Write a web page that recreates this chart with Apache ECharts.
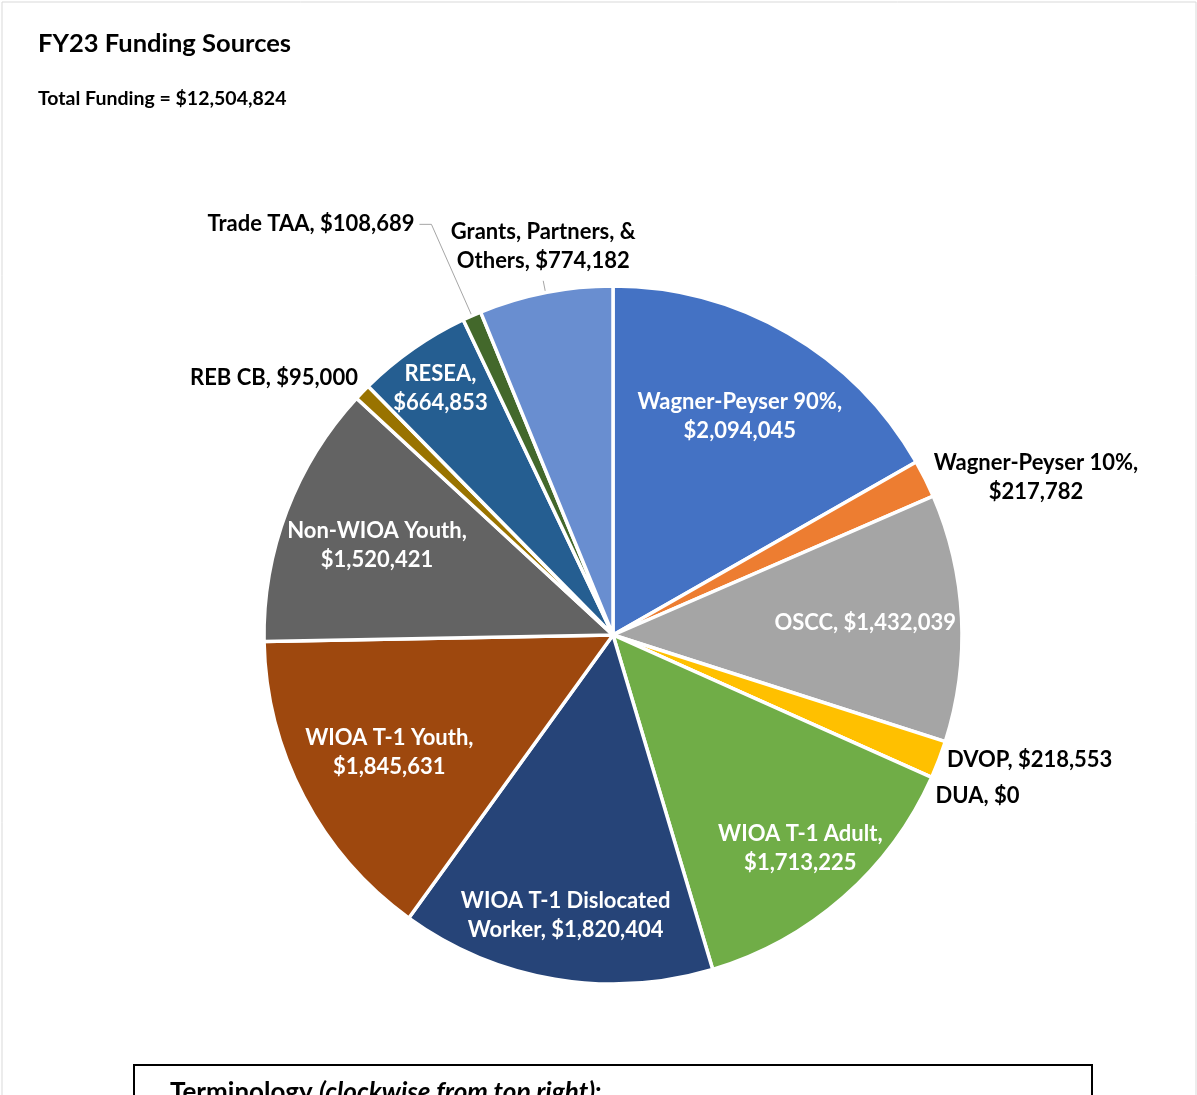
<!DOCTYPE html>
<html>
<head>
<meta charset="utf-8">
<script src="https://cdn.jsdelivr.net/npm/echarts@6/dist/echarts.min.js"></script>
<style>
html,body{margin:0;padding:0;background:#fff;}
#chart{width:1197px;height:1095px;}
</style>
</head>
<body>
<div id="chart"></div>
<script>
// ---- data ----
const titleText = 'FY23 Funding Sources';
const subtitleText = 'Total Funding = $12,504,824';
const categories = [
  'Wagner-Peyser 90%', 'Wagner-Peyser 10%', 'OSCC', 'DVOP', 'DUA',
  'WIOA T-1 Adult', 'WIOA T-1 Dislocated Worker', 'WIOA T-1 Youth',
  'Non-WIOA Youth', 'REB CB', 'RESEA', 'Trade TAA', 'Grants, Partners, & Others'
];
const values = [
  2094045, 217782, 1432039, 218553, 0,
  1713225, 1820404, 1845631,
  1520421, 95000, 664853, 108689, 774182
];
const colors = [
  '#4472C4', '#ED7D31', '#A5A5A5', '#FFC000', '#5B9BD5',
  '#70AD47', '#264478', '#9E480E',
  '#636363', '#997300', '#255E91', '#43682B', '#698ED0'
];
const boxTitle = 'Terminology ';
const boxTitleItalic = '(clockwise from top right)';

// ---- layout / style ----
const FONT = 'Lato';
const CX = 613, CY = 635, R = 349;
const twoLine = new Set(['Wagner-Peyser 90%', 'Wagner-Peyser 10%', 'WIOA T-1 Adult',
  'WIOA T-1 Youth', 'Non-WIOA Youth', 'RESEA']);
function money(v) { return '$' + v.toLocaleString('en-US'); }
function labelText(name, v) {
  if (name === 'WIOA T-1 Dislocated Worker') return 'WIOA T-1 Dislocated\nWorker, ' + money(v);
  if (name === 'Grants, Partners, & Others') return 'Grants, Partners, &\nOthers, ' + money(v);
  return twoLine.has(name) ? name + ',\n' + money(v) : name + ', ' + money(v);
}
// inside label groups (inner radius of transparent label ring)
const insideGroups = [
  { r0: 150, names: ['Wagner-Peyser 90%', 'OSCC', 'WIOA T-1 Youth', 'Non-WIOA Youth'] },
  { r0: 213, names: ['WIOA T-1 Adult', 'WIOA T-1 Dislocated Worker'] },
  { r0: 247, names: ['RESEA'] }
];
// outside labels: leader line lengths
const outsideCfg = {
  'Wagner-Peyser 10%': { len: 4, len2: 0, dist: 5, line: false },
  'DVOP': { len: 2, len2: 0, dist: 2, line: false, lh: 34 },
  'DUA': { len: 2, len2: 0, dist: 2, line: false, lh: 34 },
  'REB CB': { len: 20, len2: 0, dist: -10, line: false },
  'Trade TAA': { len: 100, len2: 12, dist: 5, line: true },
  'Grants, Partners, & Others': { len: 12, len2: 0, dist: 5, line: true }
};

const baseLabel = {
  fontFamily: FONT, fontWeight: 'bold', fontSize: 22, lineHeight: 29
};

const mainData = categories.map((name, i) => {
  const oc = outsideCfg[name];
  const lbl = oc ? { show: true, position: 'outside', color: '#000', distanceToLabelLine: oc.dist } : { show: false };
  if (oc && oc.lh) lbl.lineHeight = oc.lh;
  return {
    name: name,
    value: values[i],
    itemStyle: { color: colors[i] },
    label: lbl,
    labelLine: oc ? {
      show: oc.line, length: oc.len, length2: oc.len2,
      lineStyle: { color: '#A6A6A6', width: 1 }
    } : { show: false }
  };
});

const series = [{
  type: 'pie',
  center: [CX, CY],
  radius: [0, R],
  startAngle: 90,
  clockwise: true,
  avoidLabelOverlap: true,
  silent: true,
  emphasis: { disabled: true },
  itemStyle: { borderColor: '#ffffff', borderWidth: 3.5 },
  label: Object.assign({
    formatter: p => labelText(p.name, p.value)
  }, baseLabel),
  labelLayout: function (p) {
    const name = categories[p.dataIndex];
    if (name === 'Wagner-Peyser 10%') {
      const r = p.labelRect;
      return { x: r.x + r.width / 2, align: 'center' };
    }
    if (name === 'Grants, Partners, & Others') {
      const pts = p.labelLinePoints;
      if (!pts) return {};
      return {
        x: pts[1][0], y: pts[1][1] - 5, align: 'center', verticalAlign: 'bottom',
        labelLinePoints: [pts[0], pts[1]]
      };
    }
    return {};
  },
  data: mainData
}];

insideGroups.forEach(g => {
  series.push({
    type: 'pie',
    center: [CX, CY],
    radius: [g.r0, R],
    startAngle: 90,
    clockwise: true,
    silent: true,
    z: 5,
    emphasis: { disabled: true },
    itemStyle: { color: 'rgba(0,0,0,0)', borderWidth: 0 },
    labelLine: { show: false },
    label: Object.assign({
      position: 'inside', color: '#ffffff',
      formatter: p => labelText(p.name, p.value)
    }, baseLabel),
    data: categories.map((name, i) => ({
      name: name, value: values[i],
      label: { show: g.names.indexOf(name) >= 0 }
    }))
  });
});

const chart = echarts.init(document.getElementById('chart'), null, { renderer: 'canvas' });
chart.setOption({
  backgroundColor: '#ffffff',
  animation: false,
  title: [
    { text: titleText, left: 33, top: 26,
      textStyle: { fontFamily: FONT, fontWeight: 'bold', fontSize: 25.5, color: '#000' } },
    { text: subtitleText, left: 33, top: 84,
      textStyle: { fontFamily: FONT, fontWeight: 'bold', fontSize: 19.5, color: '#000' } }
  ],
  graphic: [
    { type: 'rect', shape: { x: 2, y: 2, width: 1194, height: 1200 },
      style: { fill: 'none', stroke: '#D9D9D9', lineWidth: 1 }, silent: true },
    { type: 'rect', shape: { x: 134, y: 1065, width: 958, height: 100 },
      style: { fill: 'none', stroke: '#000000', lineWidth: 2 }, silent: true },
    { type: 'text', x: 170, y: 1080, silent: true,
      style: {
        text: '{b|' + boxTitle + '}{i|' + boxTitleItalic + '}{b|:}',
        rich: {
          b: { fontFamily: FONT, fontWeight: 'bold', fontSize: 26, fill: '#000' },
          i: { fontFamily: FONT, fontWeight: 'bold', fontStyle: 'italic', fontSize: 26, fill: '#000' }
        },
        verticalAlign: 'top'
      } }
  ],
  series: series
});
</script>
</body>
</html>
